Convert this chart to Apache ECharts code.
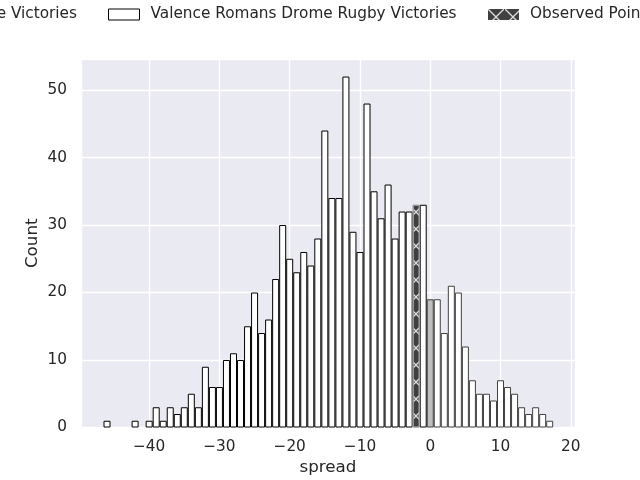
<!DOCTYPE html>
<html>
<head>
<meta charset="utf-8">
<script src="https://cdn.jsdelivr.net/npm/echarts@6/dist/echarts.min.js"></script>
<style>
  html, body { margin: 0; padding: 0; background: #fff; }
  #chart { width: 640px; height: 480px; }
</style>
</head>
<body>
<div id="chart"></div>
<script>
// histogram bins are 1 point wide, centred on whole spreads
var valenceStart = -46;
var valenceCounts = [1, 0, 0, 0, 1, 0, 1, 3, 1, 3, 2, 3, 5, 3, 9, 6, 6, 10, 11, 10,
                     15, 20, 14, 16, 22, 30, 25, 23, 26, 24, 28, 44, 34, 34, 52, 29, 26, 48, 35, 31,
                     36, 28, 32, 32, null, 33];
var otherStart = 0;
var otherCounts = [19, 19, 14, 21, 20, 12, 7, 5, 5, 4, 7, 6, 5, 3, 2, 3, 2, 1];
var drawSpread = 0;
var observedSpread = -2;
var observedCount = 33;

var otherName = 'Visiting Side Victories';
var valenceName = 'Valence Romans Drome Rugby Victories';
var observedName = 'Observed Point';

function binData(start, counts) {
  var out = [];
  counts.forEach(function (c, i) {
    if (c) out.push([start + i, c]);
  });
  return out;
}

var otherData = binData(otherStart, otherCounts).map(function (d) {
  if (d[0] === drawSpread) return { value: d, itemStyle: { color: '#bfbfbf' } };
  return d;
});

var textCol = '#262626';
var font = 'DejaVu Sans';
var minus = function (v) { return String(v).replace('-', '\u2212'); };

var xHatch = 'path://M0,0L6,0L50,44L94,0L100,0L100,6L56,50L100,94L100,100L94,100L50,56L6,100L0,100L0,94L44,50L0,6Z';

var legendBase = {
  orient: 'horizontal', padding: 0, top: 7,
  itemWidth: 31, itemHeight: 11, icon: 'rect',
  textStyle: { fontFamily: font, fontSize: 15.3, color: textCol, padding: [0, 0, 0, 6] },
  selectedMode: false
};

var myChart = echarts.init(document.getElementById('chart'));
var option = {
  animation: false,
  backgroundColor: '#ffffff',
  legend: [
    Object.assign({}, legendBase, { right: 563, data: [{ name: otherName, itemStyle: { color: '#bfbfbf', borderColor: '#404040', borderWidth: 1 } }] }),
    Object.assign({}, legendBase, { left: 108, data: [{ name: valenceName, itemStyle: { color: '#ffffff', borderColor: '#000000', borderWidth: 1 } }] }),
    Object.assign({}, legendBase, { left: 488, data: [{ name: observedName, itemStyle: { borderWidth: 0 } }] })
  ],
  grid: {
    left: 81, right: 65, top: 59, bottom: 52.5,
    outerBoundsMode: 'none', containLabel: false,
    show: true, backgroundColor: '#eaeaf2', borderWidth: 0
  },
  xAxis: {
    type: 'value', min: -49.7, max: 20.6,
    name: 'spread', nameLocation: 'middle', nameGap: 32, nameMoveOverlap: false,
    nameTextStyle: { fontFamily: font, fontSize: 16.7, color: textCol },
    axisLine: { show: false }, axisTick: { show: false },
    axisLabel: { fontFamily: font, fontSize: 15.3, color: textCol, margin: 12,
                 showMinLabel: false, showMaxLabel: false, formatter: minus },
    splitLine: { show: true, lineStyle: { color: '#ffffff', width: 1.4 } }
  },
  yAxis: {
    type: 'value', min: 0, max: 54.6,
    name: 'Count', nameLocation: 'middle', nameGap: 40, nameMoveOverlap: false,
    nameTextStyle: { fontFamily: font, fontSize: 16.7, color: textCol },
    axisLine: { show: false }, axisTick: { show: false },
    axisLabel: { fontFamily: font, fontSize: 15.3, color: textCol, margin: 14,
                 showMaxLabel: false, formatter: minus },
    splitLine: { show: true, lineStyle: { color: '#ffffff', width: 1.4 } }
  },
  series: [
    {
      name: otherName, type: 'bar', barWidth: 7, barGap: '-100%',
      itemStyle: { color: '#ffffff', borderColor: '#404040', borderWidth: 1 },
      data: otherData
    },
    {
      name: valenceName, type: 'bar', barWidth: 7, barGap: '-100%',
      itemStyle: { color: '#ffffff', borderColor: '#000000', borderWidth: 1 },
      data: binData(valenceStart, valenceCounts)
    },
    {
      name: observedName, type: 'bar', barWidth: 7, barGap: '-100%',
      itemStyle: {
        color: '#404040', borderColor: '#9a9a9a', borderWidth: 1,
        decal: { symbol: xHatch, symbolSize: 1, symbolKeepAspect: false, color: '#dcdcdc',
                 dashArrayX: [16, 1], dashArrayY: [16, 1], rotation: 0 }
      },
      data: [[observedSpread, observedCount]]
    }
  ]
};
myChart.setOption(option);
</script>
</body>
</html>
